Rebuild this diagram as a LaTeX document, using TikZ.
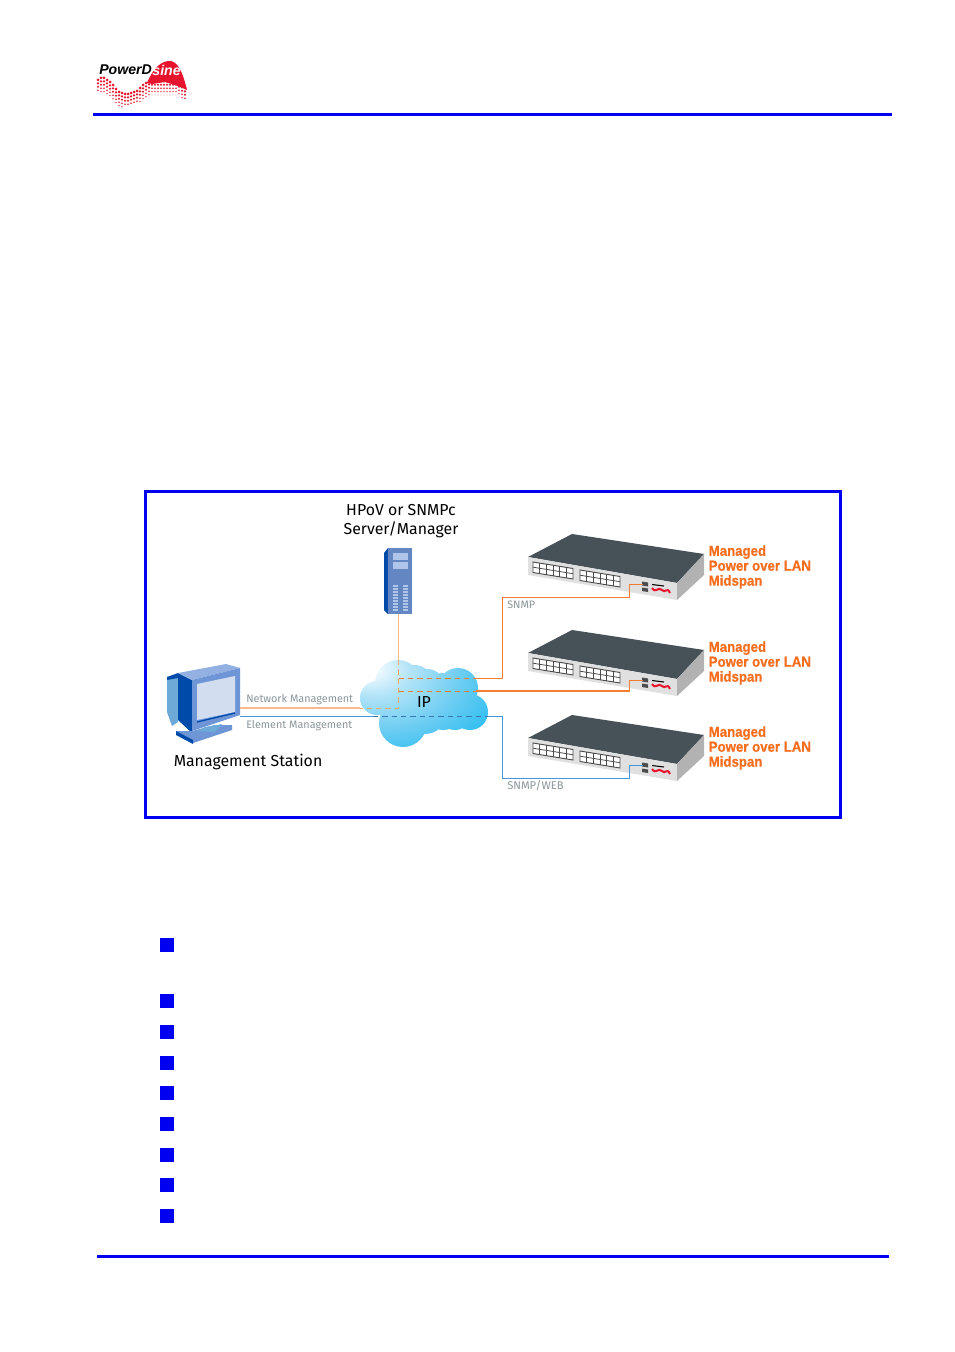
\documentclass[tikz,border=0pt]{standalone}
\usepackage{fontspec}
\setmainfont{Liberation Sans}
\newfontfamily\lab{Fira Sans}
\newfontfamily\orf[FakeStretch=0.91,BoldFeatures={FakeBold=0.7}]{Liberation Sans}
\usetikzlibrary{calc}
\definecolor{pdblue}{RGB}{0,0,240}
\definecolor{lorange}{RGB}{245,125,50}
\definecolor{lpeach}{RGB}{250,185,135}
\definecolor{lblue}{RGB}{70,150,220}
\definecolor{gtxt}{RGB}{140,150,155}
\definecolor{otxt}{RGB}{245,110,30}
\definecolor{swtop}{RGB}{70,82,88}
\definecolor{pdred}{RGB}{230,20,45}
\definecolor{mon}{RGB}{110,150,215}
\definecolor{mond}{RGB}{0,75,170}
\definecolor{monl}{RGB}{110,170,215}
\definecolor{cl0}{RGB}{240,250,255}
\definecolor{cl1}{RGB}{180,228,248}
\definecolor{cl2}{RGB}{110,205,242}
\definecolor{cl3}{RGB}{15,182,240}
\pgfdeclareradialshading{cloudsh}{\pgfpoint{-23bp}{22bp}}{color(0bp)=(cl0);color(4bp)=(cl0);color(14bp)=(cl1);color(30bp)=(cl2);color(52bp)=(cl3);color(100bp)=(cl3)}
\tikzset{
 x=0.75pt,y=-0.75pt,
 rule/.style={draw=pdblue,line width=2.2pt},
 bul/.style={fill=pdblue,draw=none,minimum size=10.5pt,inner sep=0pt,rectangle},
 blk/.style={font=\lab\fontsize{11.9}{14.5}\selectfont,text=black,align=center,inner sep=0},
 gr/.style={font=\lab\fontsize{8.1}{10}\selectfont,text=gtxt,inner sep=0,anchor=west},
 orl/.style={font=\orf\bfseries\fontsize{10.9}{11.2}\selectfont,text=otxt,align=left,inner sep=0,anchor=north west},
 oline/.style={draw=lorange,line width=0.75pt},
 pline/.style={draw=lpeach,line width=1.1pt},
 bline/.style={draw=lblue,line width=0.75pt},
 odash/.style={draw=lorange,line width=0.75pt,dash pattern=on 4pt off 3pt},
 bdash/.style={draw=lblue!80!black,line width=0.75pt,dash pattern=on 4pt off 3pt},
 pics/midspan/.style={code={
  \fill[swtop] (0,23)--(44,0)--(176,20)--(149,49)--cycle;
  \fill[black!12] (0,23)--(149,49)--(149,66)--(0,41)--cycle;
  \fill[black!30] (149,49)--(176,20)--(176,41)--(149,66)--cycle;
  \foreach \ox/\oy in {5/28,52/36}{
   \begin{scope}[shift={(\ox,\oy)}]
    \fill[white] (0,0)--(40,6.5)--(40,17)--(0,10.5)--cycle;
    \draw[black!70,line width=0.7pt] (0,0)--(40,6.5)--(40,17)--(0,10.5)--cycle;
    \draw[black!70,line width=0.6pt] (0,5.2)--(40,11.7);
    \foreach \k in {1,...,5} \draw[black!70,line width=0.5pt] (\k*6.66,\k*1.08)--(\k*6.66,\k*1.08+10.5);
   \end{scope}}
  \fill[black!70] (114,47.5)--(120,48.5)--(120,52.5)--(114,51.5)--cycle;
  \fill[black!70] (114,53.5)--(120,54.5)--(120,58)--(114,57)--cycle;
  \draw[pdred,line width=1.5pt] (124,54) .. controls (128,60) and (130,52) .. (134,56) .. controls (137,60) and (139,52) .. (142,59);
  \draw[black,line width=0.8pt] (124,50.5)--(136,52);
 }}
}
\newcommand{\halfdot}[3]{\pgfmathsetmacro{\rr}{max(0.35,1.5-0.06*(#2-#3))*0.75}\fill[pdred] (#1,#2) circle[radius=\rr pt];}
\begin{document}
\begin{tikzpicture}
\useasboundingbox (0,0) rectangle (954,1352);
\fill[white] (0,0) rectangle (954,1352);
% logo
\foreach \x/\u/\n in {98/80/3,101/78/4,104/78/4,107/80/4,110/82/4,113/85/5,116/89/4,119/92/4,122/93/4,125/94/3,128/94/3,131/93/3,134/92/3,137/91/3,140/88/4,143/85/4,146/83/4,149/81/5,152/78/5,155/78/5,158/78/5,161/78/5,164/78/5,167/78/5,170/78/5,173/78/5,176/78/5,179/80/5,182/84/4,185/88/3}{
 \foreach \i in {0,...,\n}{
  \pgfmathsetmacro{\yy}{\u+3.4*\i}
  \halfdot{\x}{\yy}{\u}
 }}
\fill[pdred] (147,83) .. controls (153,68) and (162,60) .. (171,61) .. controls (180,63) and (184,78) .. (187,90) -- (178,86) -- (165,82) -- (152,84) --cycle;
\node[inner sep=0,anchor=west,font=\bfseries\itshape\fontsize{10.6}{11}\selectfont,text=black] (logoa) at (99,70) {PowerD};
\node[inner sep=0,anchor=west,font=\bfseries\itshape\fontsize{10.6}{11}\selectfont,text=white] (logob) at (logoa.east) {sine};
\coordinate (hl) at (93,114.5); \coordinate (hr) at (892,114.5);
\draw[rule] (hl)--(hr);
\coordinate (fl) at (97,1256.5); \coordinate (fr) at (889,1256.5);
\draw[rule] (fl)--(fr);
% frame
\draw[rule] (145.5,491.5) rectangle (840.5,817.5);
% cloud
\begin{scope}
\clip (398,683) circle[radius=23pt*0.75] (377,698) circle[radius=17pt*0.75] (427,687) circle[radius=18pt*0.75] (415,682) circle[radius=17pt*0.75] (443,690) circle[radius=17pt*0.75] (458,688) circle[radius=20pt*0.75] (470,712) circle[radius=18pt*0.75] (403,723) circle[radius=24pt*0.75] (425,712) circle[radius=22pt*0.75] (443,712) circle[radius=18pt*0.75] (455,714) circle[radius=16pt*0.75] (420,700) circle[radius=30pt*0.75];
\path[shading=cloudsh] (360,660) rectangle (488,747);
\end{scope}
% server
\fill[mond] (384,553)--(388,548)--(388,614)--(384,610)--cycle;
\fill[mon!90!black] (388,548) rectangle (412,614);
\fill[mon!55!white] (393,553) rectangle (408,560);
\fill[mon!55!white] (393,562) rectangle (408,569);
\foreach \i in {0,...,8}{\fill[mon!55!white] (393,585+\i*3) rectangle (398,586.5+\i*3);\fill[mon!55!white] (403,585+\i*3) rectangle (408,586.5+\i*3);}
% monitor
\fill[monl] (167,677)--(178,675)--(178,722)--(172,726)--(167,712)--cycle;
\fill[mond] (167,677)--(178,673)--(178,678)--(167,680)--cycle;
\fill[mond] (178,673)--(192,680)--(192,733)--(178,720)--cycle;
\fill[mon!75!white] (178,673)--(226,664)--(240,668)--(192,680)--cycle;
\fill[mon] (192,680)--(240,668)--(240,715)--(192,731)--cycle;
\fill[black!4!mon!30!white] (197,684)--(235,676)--(235,712)--(197,720)--cycle;
\draw[mond,line width=1pt] (197,722)--(235,713);
\fill[mon] (176,731)--(193,743)--(232,730)--(232,725)--(215,725)--(192,731)--cycle;
\fill[mond] (176,731)--(193,740)--(193,744)--(176,735)--cycle;
\fill[monl] (197,731)--(205,727)--(222,724)--(215,732)--cycle;
% switches
\pic at (528,534) {midspan};
\pic at (528,630) {midspan};
\pic at (528,715) {midspan};
% named anchors of the connectors
\coordinate (srv) at (398.5,614);
\coordinate (cloudtop) at (398.5,660);
\coordinate (jn) at (398.5,708);
\coordinate (st) at (240,708);
\coordinate (stc) at (360,708);
\coordinate (j1) at (398.5,678.5);
\coordinate (j2) at (398.5,691);
\coordinate (e1) at (473,678.5);
\coordinate (e2) at (476,691);
\coordinate (st2) at (240,716.5);
\coordinate (stb) at (373,716.5);
\coordinate (eb) at (488,716.5);
\coordinate (p1) at (643,584.5);
\coordinate (p2) at (643,680.5);
\coordinate (p3) at (643,765.5);
% connectors
\draw[pline] (srv)--(cloudtop);
\draw[pline] (st)--(stc);
\draw[odash,draw=lpeach!70!lorange] (cloudtop)--(jn)--(stc);
\draw[odash] (j1)--(e1);
\draw[odash] (j2)--(e2);
\draw[oline] (e1)--(502.5,678.5)--(502.5,597.5)--(629.5,597.5)--(629.5,584.5)--(p1);
\draw[oline,line width=0.9pt] (e2)--(629.5,691)--(629.5,680.5)--(p2);
\draw[bline] (st2)--(stb);
\draw[bdash] (stb)--(eb);
\draw[bline] (eb)--(502.5,716.5)--(502.5,778.5)--(629.5,778.5)--(629.5,765.5)--(p3);
% labels
\node[blk] (srvl) at (401,521) {HPoV or SNMPc\\Server/Manager};
\node[blk,anchor=west] (msl) at (173.5,762) {Management Station};
\node[blk] (ipl) at (424,702.5) {IP};
\node[gr] (nm) at (246,699.5) {Network Management};
\node[gr] (em) at (246,726) {Element Management};
\node[gr] (snmp) at (507,605) {SNMP};
\node[gr,font=\lab\fontsize{8.4}{10}\selectfont] (web) at (507,786) {SNMP/WEB};
\foreach \n/\y in {a/545,b/641,c/726}{
 \node[orl] (m\n) at (708.5,\y) {Managed\\Power over LAN\\Midspan};
}
% bullets
\foreach \n/\y in {1/945,2/1001,3/1032,4/1062.5,5/1093,6/1124,7/1154.5,8/1185,9/1216}{
 \node[bul] (b\n) at (167,\y) {};
}
\end{tikzpicture}
\end{document}
